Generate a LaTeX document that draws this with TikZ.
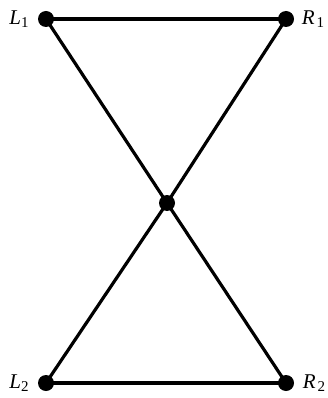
\documentclass[tikz,border=0pt]{standalone}
\usepackage{fontspec}
\setmainfont{Liberation Serif}
\newcommand{\mylbl}[3]{\textit{#1}\hspace{#3}\raisebox{-0.35ex}{\fontsize{15}{15}\selectfont #2}}
\begin{document}
\begin{tikzpicture}[x=1pt,y=-1pt,
  dot/.style={circle,fill=black,inner sep=0pt,minimum size=16pt},
  edge/.style={line width=3.2pt},
  lab/.style={font=\fontsize{21}{21}\selectfont,inner sep=0pt}]
\useasboundingbox (0,0) rectangle (328,398);
\node[dot] (L1) at (46,19) {};
\node[dot] (R1) at (286,19) {};
\node[dot] (C) at (167,203) {};
\node[dot] (L2) at (46,383) {};
\node[dot] (R2) at (286,383) {};
\draw[edge] (L1.center) -- (R1.center);
\draw[edge] (L2.center) -- (R2.center);
\draw[edge] (L1.center) -- (C.center) -- (R2.center);
\draw[edge] (R1.center) -- (C.center) -- (L2.center);
\node[lab] (tL1) at (19,19) {\mylbl{L}{1}{0pt}};
\node[lab] (tR1) at (313,19) {\mylbl{R}{1}{2pt}};
\node[lab] (tL2) at (19,383) {\mylbl{L}{2}{0pt}};
\node[lab] (tR2) at (314,383) {\mylbl{R}{2}{2pt}};
\end{tikzpicture}
\end{document}
